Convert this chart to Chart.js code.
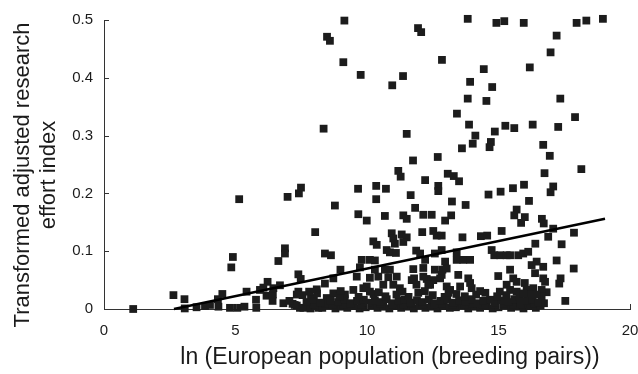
<!DOCTYPE html>
<html>
<head>
<meta charset="utf-8">
<title>Research effort vs European population</title>
<script src="https://cdn.jsdelivr.net/npm/chart.js@4.4.1/dist/chart.umd.min.js"></script>
<style>
  html, body { margin: 0; padding: 0; background: #fff; }
  canvas { display: block; }
</style>
</head>
<body>
<canvas id="scatter" width="638" height="374"></canvas>
<script>
// Species: ln(breeding pairs) vs transformed research effort index, split by height band
const highX = [
  9.14, 8.48, 8.59, 9.10, 9.76, 11.37, 10.96, 11.94, 12.06, 13.83,
  14.92, 15.22, 15.96, 17.97, 18.34, 18.97, 17.21, 16.98, 12.85, 14.44,
  16.19, 13.92, 14.76, 13.83, 14.54, 17.35, 13.42, 17.91, 13.88, 15.26,
  15.60, 16.30, 17.27, 8.35, 11.51, 14.86, 14.12, 14.02, 14.71, 14.66,
  13.61, 16.70, 16.95, 11.75, 12.69, 16.75, 18.15, 11.19, 11.28, 12.21,
  13.07, 13.30, 13.50, 12.71, 12.71, 11.66, 14.62, 15.08, 15.55, 15.97,
  17.08, 16.98, 13.23, 13.75, 16.16, 15.69, 11.83, 5.14, 6.98, 7.41,
  7.49, 9.66, 10.35, 10.72, 10.35, 8.78
];
const highY = [
  0.499, 0.471, 0.464, 0.427, 0.405, 0.403, 0.387, 0.486, 0.479, 0.502,
  0.495, 0.498, 0.495, 0.495, 0.499, 0.502, 0.473, 0.444, 0.431, 0.415,
  0.418, 0.393, 0.384, 0.364, 0.360, 0.364, 0.338, 0.332, 0.319, 0.317,
  0.313, 0.319, 0.315, 0.312, 0.303, 0.307, 0.300, 0.286, 0.289, 0.280,
  0.278, 0.284, 0.265, 0.257, 0.263, 0.235, 0.242, 0.239, 0.229, 0.223,
  0.234, 0.230, 0.221, 0.213, 0.204, 0.197, 0.198, 0.203, 0.209, 0.215,
  0.212, 0.202, 0.186, 0.180, 0.187, 0.172, 0.175, 0.190, 0.194, 0.200,
  0.210, 0.208, 0.213, 0.208, 0.190, 0.179
];

const midX = [
  9.67, 9.99, 10.68, 11.38, 11.51, 12.14, 12.46, 13.20, 12.97, 15.60,
  16.00, 15.86, 16.65, 16.72, 8.03, 10.94, 11.00, 11.32, 11.51, 11.38,
  12.10, 12.52, 12.65, 12.84, 10.24, 10.37, 17.08, 16.89, 17.87, 17.40,
  16.40, 15.12, 13.63, 14.33, 14.57, 6.88, 6.88, 11.06, 10.75, 10.87,
  11.10, 11.87, 12.02, 12.84, 13.41, 12.58, 14.74, 14.84, 15.06, 15.31,
  15.44, 15.75, 15.94, 16.13, 4.90, 4.84, 8.40, 8.63
];
const midY = [
  0.164, 0.153, 0.161, 0.162, 0.156, 0.163, 0.163, 0.162, 0.153, 0.162,
  0.159, 0.149, 0.156, 0.148, 0.133, 0.131, 0.122, 0.129, 0.124, 0.116,
  0.133, 0.135, 0.127, 0.127, 0.117, 0.111, 0.139, 0.125, 0.132, 0.112,
  0.113, 0.135, 0.124, 0.126, 0.127, 0.105, 0.096, 0.113, 0.102, 0.098,
  0.097, 0.101, 0.096, 0.102, 0.098, 0.096, 0.102, 0.093, 0.093, 0.093,
  0.093, 0.093, 0.096, 0.099, 0.090, 0.072, 0.096, 0.093
];

const lowX = [
  6.63, 9.80, 10.11, 10.30, 9.73, 8.99, 10.30, 10.68, 10.87, 12.21,
  12.14, 11.76, 12.58, 12.97, 12.87, 13.03, 13.41, 13.66, 13.92, 17.21,
  16.26, 16.45, 16.70, 17.86, 15.44, 14.99, 16.39, 16.70, 16.77, 13.47,
  12.84, 8.72, 9.61, 10.11, 10.43, 10.81, 11.13, 11.79, 12.27, 12.52,
  12.14, 12.78, 7.39, 7.48, 6.22, 6.69, 13.85, 13.92, 13.98, 15.56,
  15.69, 16.00, 17.36, 17.31, 11.70, 12.40, 11.88, 12.33, 8.40, 8.09,
  10.62, 11.00, 11.25, 9.86, 9.99, 10.11, 13.03, 13.16, 13.54, 15.31,
  15.44, 15.69, 16.07, 16.32, 16.83, 16.64, 16.64, 16.73, 17.54, 6.06,
  6.18, 6.42, 6.41, 7.39, 7.87, 8.47, 8.72, 9.16, 9.48, 5.93,
  6.44, 7.33
];
const lowY = [
  0.083, 0.085, 0.085, 0.084, 0.072, 0.068, 0.068, 0.068, 0.068, 0.085,
  0.071, 0.069, 0.068, 0.082, 0.068, 0.070, 0.085, 0.085, 0.085, 0.084,
  0.076, 0.082, 0.073, 0.070, 0.068, 0.057, 0.062, 0.053, 0.047, 0.059,
  0.059, 0.053, 0.056, 0.054, 0.056, 0.055, 0.056, 0.053, 0.052, 0.050,
  0.056, 0.053, 0.060, 0.052, 0.047, 0.041, 0.053, 0.045, 0.036, 0.053,
  0.047, 0.045, 0.053, 0.044, 0.050, 0.042, 0.042, 0.042, 0.044, 0.034,
  0.042, 0.042, 0.036, 0.036, 0.039, 0.030, 0.039, 0.033, 0.039, 0.042,
  0.033, 0.030, 0.033, 0.036, 0.029, 0.033, 0.022, 0.010, 0.014, 0.037,
  0.023, 0.025, 0.014, 0.030, 0.019, 0.019, 0.027, 0.025, 0.033, 0.033,
  0.036, 0.025
];

// species sitting on or just above zero
const floorX = [
  1.11, 2.64, 3.06, 3.07, 3.52, 3.84, 4.03, 4.33, 4.35, 4.50,
  4.79, 5.07, 5.34, 5.42, 5.78, 5.79, 6.82, 7.17, 7.33, 7.45,
  7.58, 8.15,
  7.85, 8.05, 8.30, 8.55, 8.80, 9.02, 9.25, 9.50, 9.72, 9.95,
  10.18, 10.40, 10.62, 10.85, 11.08, 11.30, 11.55, 11.78, 12.00, 12.22,
  12.45, 12.68, 12.92, 13.15, 13.38, 13.62, 13.85, 14.08, 14.30, 14.55,
  14.78, 15.00, 15.25, 15.48, 15.72, 15.95, 16.18, 16.42,
  7.25, 7.95, 8.42, 8.70, 9.10, 9.35, 9.80, 10.10, 10.50, 10.95,
  11.40, 11.70, 12.10, 12.55, 12.85, 13.25, 13.70, 14.00, 14.40, 14.85,
  15.15, 15.55, 15.90, 16.35, 16.60,
  7.05, 7.70, 7.98, 8.22, 8.62, 8.90, 9.15, 9.38, 9.62, 9.88,
  10.05, 10.30, 10.52, 10.75, 10.98, 11.20, 11.42, 11.65, 11.90, 12.12,
  12.35, 12.58, 12.80, 13.05, 13.28, 13.50, 13.75, 13.98, 14.20, 14.42,
  14.68, 14.90, 15.12, 15.38, 15.60, 15.85, 16.08, 16.30, 16.50,
  7.55, 8.10, 8.95, 9.68, 10.25, 10.70, 11.12, 11.58, 11.95, 12.50,
  12.95, 13.40, 13.72, 14.15, 14.50, 14.95, 15.30, 15.80, 16.20,
  7.80, 9.00, 10.45, 11.35, 12.20, 13.10, 14.30, 15.05, 15.95, 16.45
];
const floorY = [
  0.000, 0.024, 0.017, 0.001, 0.003, 0.005, 0.007, 0.017, 0.004, 0.026,
  0.002, 0.002, 0.004, 0.030, 0.016, 0.002, 0.010, 0.009, 0.006, 0.002,
  0.002, 0.002,
  0.001, 0.005, 0.002, 0.006, 0.001, 0.004, 0.002, 0.005, 0.001, 0.003,
  0.006, 0.002, 0.004, 0.001, 0.005, 0.002, 0.004, 0.001, 0.006, 0.002,
  0.004, 0.001, 0.005, 0.002, 0.003, 0.006, 0.001, 0.004, 0.002, 0.005,
  0.001, 0.003, 0.006, 0.002, 0.004, 0.001, 0.005, 0.002,
  0.007, 0.008, 0.009, 0.007, 0.008, 0.009, 0.007, 0.008, 0.009, 0.007,
  0.008, 0.009, 0.007, 0.008, 0.009, 0.007, 0.008, 0.009, 0.007, 0.008,
  0.009, 0.007, 0.008, 0.009, 0.006,
  0.014, 0.012, 0.016, 0.011, 0.015, 0.012, 0.017, 0.010, 0.014, 0.016,
  0.011, 0.015, 0.012, 0.017, 0.010, 0.014, 0.016, 0.011, 0.015, 0.012,
  0.017, 0.010, 0.014, 0.016, 0.011, 0.015, 0.012, 0.017, 0.010, 0.014,
  0.016, 0.011, 0.015, 0.012, 0.017, 0.010, 0.014, 0.016, 0.011,
  0.024, 0.027, 0.022, 0.021, 0.026, 0.022, 0.025, 0.021, 0.028, 0.024,
  0.021, 0.026, 0.022, 0.025, 0.028, 0.022, 0.024, 0.021, 0.026,
  0.030, 0.031, 0.029, 0.030, 0.031, 0.028, 0.031, 0.030, 0.027, 0.025
];

// least-squares line, drawn over the fitted range
const fitX = [2.66, 19.05];
const fitY = [0.000, 0.156];

const xTicks = [0, 5, 10, 15, 20];
const yTicks = [0, 0.1, 0.2, 0.3, 0.4, 0.5];

const X_TITLE = 'ln (European population (breeding pairs))';
const Y_TITLE = ['Transformed adjusted research', 'effort index'];

const FONT = '"Liberation Sans", Arial, Helvetica, sans-serif';
const INK = '#1b1b1b';

const toPoints = (xs, ys) => xs.map((x, i) => ({ x, y: ys[i] }));
const species = [
  ...toPoints(highX, highY),
  ...toPoints(midX, midY),
  ...toPoints(lowX, lowY),
  ...toPoints(floorX, floorY)
];

// inward tick marks + axis titles
const axisExtras = {
  id: 'axisExtras',
  afterDraw(chart) {
    const { ctx, chartArea, scales } = chart;
    ctx.save();
    ctx.strokeStyle = '#333';
    ctx.lineWidth = 1;
    ctx.beginPath();
    xTicks.slice(1).forEach(v => {
      const px = Math.round(scales.x.getPixelForValue(v)) + 0.5;
      ctx.moveTo(px, chartArea.bottom);
      ctx.lineTo(px, chartArea.bottom - 5);
    });
    yTicks.slice(1).forEach(v => {
      const py = Math.round(scales.y.getPixelForValue(v)) + 0.5;
      ctx.moveTo(chartArea.left, py);
      ctx.lineTo(chartArea.left + 5, py);
    });
    ctx.stroke();

    ctx.fillStyle = INK;
    ctx.font = '23px ' + FONT;
    ctx.textAlign = 'center';
    ctx.textBaseline = 'alphabetic';
    ctx.fillText(X_TITLE, 390, 364);

    ctx.font = '22px ' + FONT;
    ctx.translate(29, 175);
    ctx.rotate(-Math.PI / 2);
    ctx.fillText(Y_TITLE[0], 0, 0);
    ctx.fillText(Y_TITLE[1], 0, 26);
    ctx.restore();
  }
};

new Chart(document.getElementById('scatter'), {
  type: 'scatter',
  data: {
    datasets: [
      {
        type: 'line',
        data: toPoints(fitX, fitY),
        borderColor: '#000',
        borderWidth: 2.5,
        pointRadius: 0,
        fill: false,
        clip: false,
        order: 0
      },
      {
        data: species,
        pointStyle: 'rect',
        pointRadius: 5.5,
        backgroundColor: '#1c1c1c',
        borderWidth: 0,
        clip: false,
        order: 1
      }
    ]
  },
  options: {
    responsive: false,
    animation: false,
    devicePixelRatio: 1,
    events: [],
    layout: { padding: { top: 18, right: 8, left: 0, bottom: 0 } },
    plugins: {
      legend: { display: false },
      tooltip: { enabled: false }
    },
    scales: {
      x: {
        type: 'linear',
        min: 0,
        max: 20,
        grid: { display: false, drawTicks: false },
        border: { display: true, color: '#333', width: 1 },
        afterBuildTicks: s => { s.ticks = xTicks.map(value => ({ value })); },
        ticks: {
          padding: 13,
          color: INK,
          font: { family: FONT, size: 15 }
        },
        afterFit: s => { s.height = 65; s.paddingLeft = 0; s.paddingRight = 0; }
      },
      y: {
        type: 'linear',
        min: 0,
        max: 0.5,
        grid: { display: false, drawTicks: false },
        border: { display: true, color: '#333', width: 1 },
        afterBuildTicks: s => { s.ticks = yTicks.map(value => ({ value })); },
        ticks: {
          padding: 11,
          color: INK,
          font: { family: FONT, size: 15 },
          callback: v => (v === 0 ? '0' : v.toFixed(1))
        },
        afterFit: s => { s.width = 104; }
      }
    }
  },
  plugins: [axisExtras]
});
</script>
</body>
</html>
